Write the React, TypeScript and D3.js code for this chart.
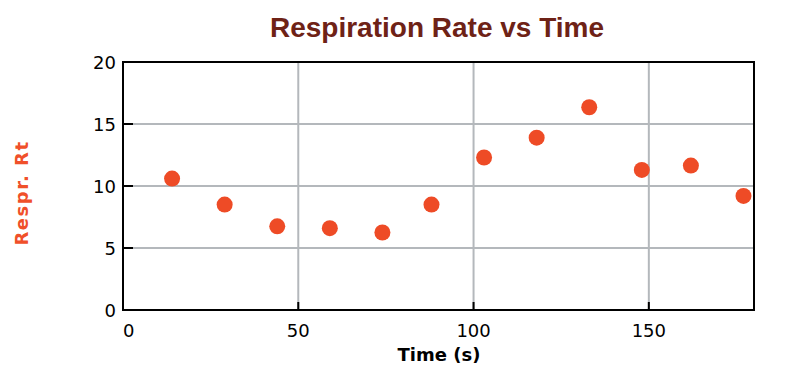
import React, { useEffect, useRef } from 'react';
import * as d3 from 'd3';

const times = [14, 29, 44, 59, 74, 88, 103, 118, 133, 148, 162, 177];
const rates = [10.6, 8.5, 6.75, 6.6, 6.25, 8.5, 12.3, 13.9, 16.35, 11.3, 11.65, 9.2];
const xTicks = [0, 50, 100, 150];
const yTicks = [0, 5, 10, 15, 20];

const App = () => {
  const ref = useRef<SVGSVGElement | null>(null);

  useEffect(() => {
    const width = 794, height = 373;
    const left = 123, right = 754, top = 62, bottom = 310;

    const svg = d3.select(ref.current);
    svg.selectAll('*').remove();

    const x = d3.scaleLinear().domain([0, 180]).range([left, right]);
    const y = d3.scaleLinear().domain([0, 20]).range([bottom, top]);

    svg.append('rect').attr('width', width).attr('height', height).attr('fill', '#fff');

    // grid
    svg.selectAll('.gx')
      .data(xTicks.filter(d => d > 0))
      .enter()
      .append('line')
      .attr('x1', d => x(d)).attr('x2', d => x(d))
      .attr('y1', top).attr('y2', bottom)
      .attr('stroke', '#b4b8bc').attr('stroke-width', 2);
    svg.selectAll('.gy')
      .data(yTicks.filter(d => d > 0 && d < 20))
      .enter()
      .append('line')
      .attr('x1', left).attr('x2', right)
      .attr('y1', d => y(d)).attr('y2', d => y(d))
      .attr('stroke', '#b4b8bc').attr('stroke-width', 2);

    // inward tick marks
    svg.selectAll('.tx')
      .data(xTicks.filter(d => d > 0))
      .enter()
      .append('line')
      .attr('x1', d => x(d)).attr('x2', d => x(d))
      .attr('y1', bottom).attr('y2', bottom - 8)
      .attr('stroke', '#000').attr('stroke-width', 2);
    svg.selectAll('.ty')
      .data(yTicks.filter(d => d > 0 && d < 20))
      .enter()
      .append('line')
      .attr('x1', left).attr('x2', left + 10)
      .attr('y1', d => y(d)).attr('y2', d => y(d))
      .attr('stroke', '#000').attr('stroke-width', 2);

    // frame
    svg.append('rect')
      .attr('x', left).attr('y', top)
      .attr('width', right - left).attr('height', bottom - top)
      .attr('fill', 'none').attr('stroke', '#000').attr('stroke-width', 2);

    // tick labels
    svg.selectAll('.lx')
      .data(xTicks)
      .enter()
      .append('text')
      .attr('x', d => x(d))
      .attr('y', bottom + 27)
      .attr('text-anchor', d => (d === 0 ? 'start' : 'middle'))
      .style('font-family', 'DejaVu Sans, sans-serif')
      .style('font-size', '18px')
      .text(d => d);
    svg.selectAll('.ly')
      .data(yTicks)
      .enter()
      .append('text')
      .attr('x', left - 7)
      .attr('y', d => y(d) + 7)
      .attr('text-anchor', 'end')
      .style('font-family', 'DejaVu Sans, sans-serif')
      .style('font-size', '18px')
      .text(d => d);

    // points
    svg.selectAll('.pt')
      .data(times.map((t, i) => [t, rates[i]]))
      .enter()
      .append('circle')
      .attr('cx', d => x(d[0]))
      .attr('cy', d => y(d[1]))
      .attr('r', 8)
      .attr('fill', '#ee4b26');

    // title
    svg.append('text')
      .attr('x', 437).attr('y', 37)
      .attr('text-anchor', 'middle')
      .style('font-family', 'Liberation Sans, Arial, sans-serif')
      .style('font-weight', 'bold')
      .style('font-size', '28px')
      .attr('fill', '#6e2216')
      .text('Respiration Rate vs Time');

    // axis titles
    svg.append('text')
      .attr('x', 439).attr('y', 361)
      .attr('text-anchor', 'middle')
      .style('font-family', 'DejaVu Sans, sans-serif')
      .style('font-weight', 'bold')
      .style('font-size', '18px')
      .text('Time (s)');
    svg.append('text')
      .attr('transform', `translate(28, 193) rotate(-90)`)
      .attr('text-anchor', 'middle')
      .style('font-family', 'DejaVu Sans, sans-serif')
      .style('font-weight', 'bold')
      .style('font-size', '18px')
      .style('letter-spacing', '1.5px')
      .attr('fill', '#f0502a')
      .text('Respr. Rt');
  }, []);

  return (
    <svg ref={ref} width={794} height={373}
      style={{ position: 'absolute', left: 0, top: 0, display: 'block' }} />
  );
};

export default App;
